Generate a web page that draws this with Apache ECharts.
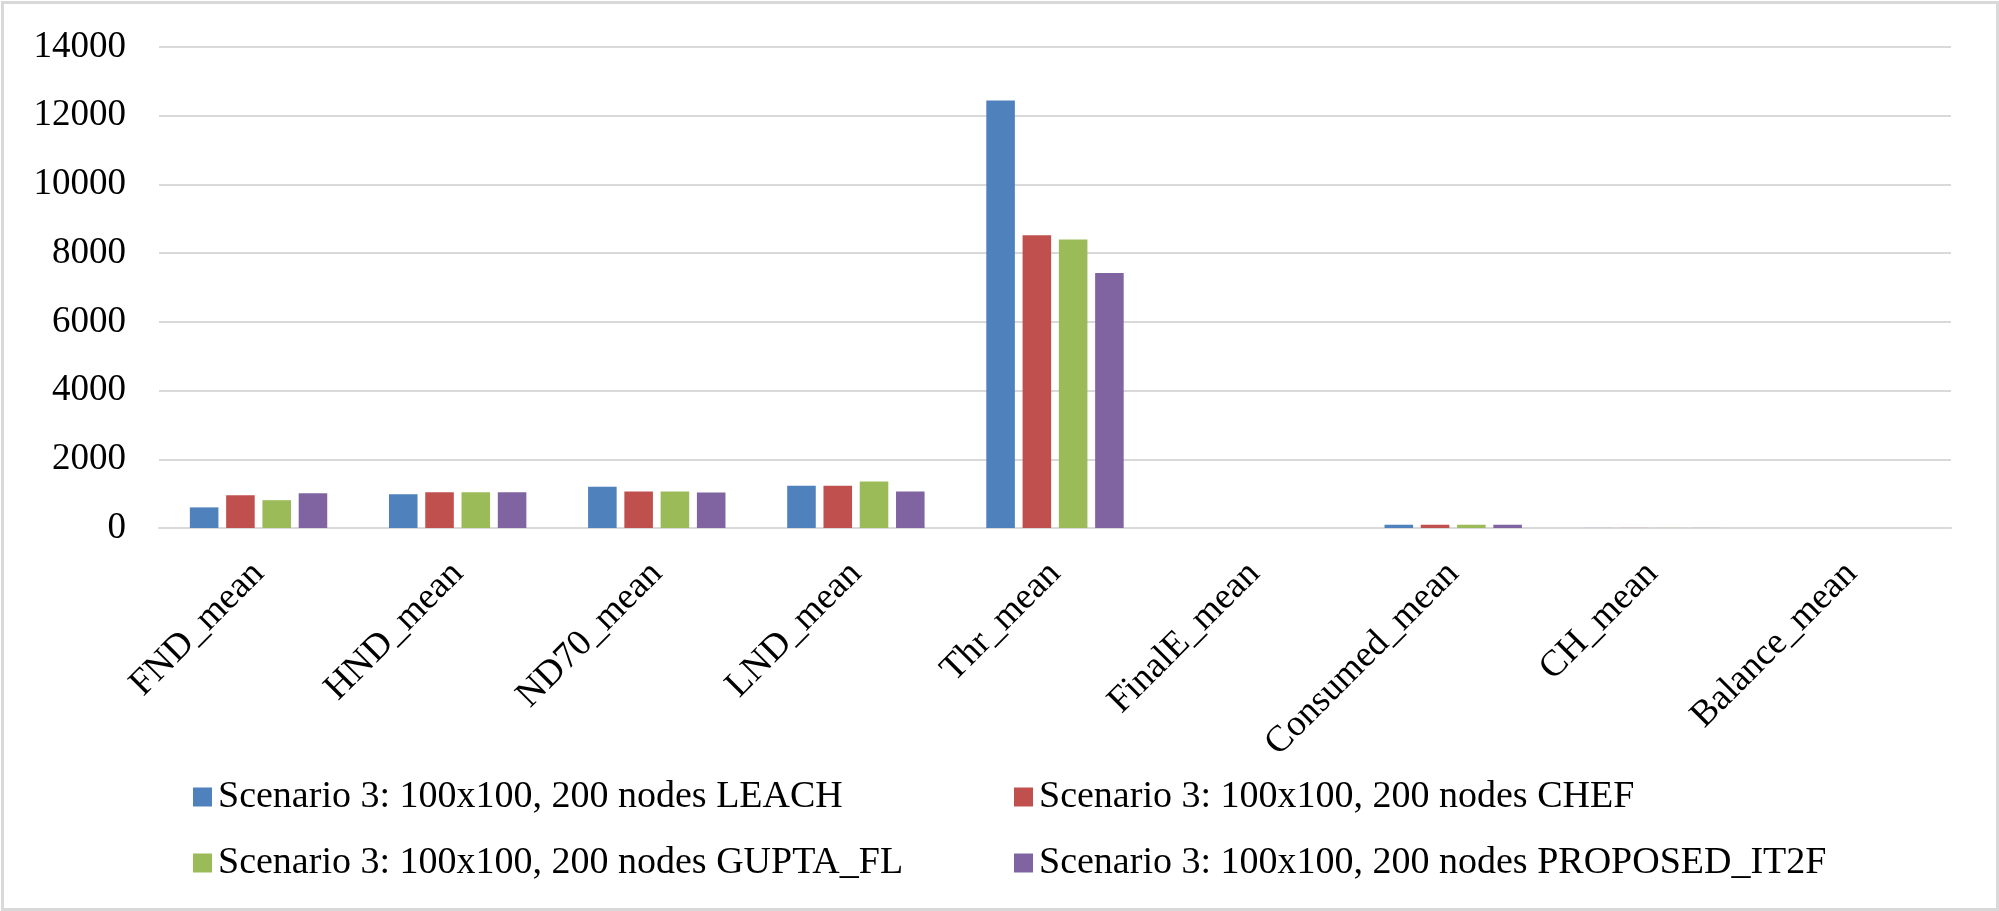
<!DOCTYPE html>
<html>
<head>
<meta charset="utf-8">
<script src="https://cdn.jsdelivr.net/npm/echarts@6/dist/echarts.min.js"></script>
<style>
html,body{margin:0;padding:0;background:#fff;}
#chart{width:1999px;height:911px;}
</style>
</head>
<body>
<div id="chart"></div>
<script>
const categories = ['FND_mean','HND_mean','ND70_mean','LND_mean','Thr_mean','FinalE_mean','Consumed_mean','CH_mean','Balance_mean'];
const seriesNames = [
  'Scenario 3: 100x100, 200 nodes LEACH',
  'Scenario 3: 100x100, 200 nodes CHEF',
  'Scenario 3: 100x100, 200 nodes GUPTA_FL',
  'Scenario 3: 100x100, 200 nodes PROPOSED_IT2F'
];
const leachValues    = [600, 985, 1200, 1230, 12440, 0.5, 95, 2, 0.5];
const chefValues     = [950, 1040, 1065, 1230, 8520, 0.5, 95, 2, 0.5];
const guptaValues    = [810, 1040, 1065, 1350, 8400, 0.5, 95, 2, 0.5];
const proposedValues = [1010, 1040, 1035, 1065, 7420, 0.5, 95, 2, 0.5];
const yTicks = {min: 0, max: 14000, interval: 2000};

const colors = ['#4F81BD','#C0504D','#9BBB59','#8064A2'];
const allValues = [leachValues, chefValues, guptaValues, proposedValues];
const font = 'Liberation Serif';

const chart = echarts.init(document.getElementById('chart'));
chart.setOption({
  animation: false,
  color: colors,
  textStyle: {fontFamily: font, color: '#000'},
  grid: {left: 159, right: 48, top: 47, bottom: 383, containLabel: false, outerBoundsMode: 'none'},
  graphic: [{
    type: 'rect', left: 0, top: 0, silent: true,
    shape: {x: 1.5, y: 1.5, width: 1995, height: 907},
    style: {fill: 'none', stroke: '#d9d9d9', lineWidth: 3}
  }],
  xAxis: {
    type: 'category',
    data: categories,
    axisLine: {lineStyle: {color: '#d9d9d9', width: 2}},
    axisTick: {show: false},
    axisLabel: {rotate: 45, margin: 40, fontSize: 37, fontFamily: font, color: '#000', interval: 0}
  },
  yAxis: {
    type: 'value',
    min: yTicks.min, max: yTicks.max, interval: yTicks.interval,
    axisLine: {show: false},
    axisTick: {show: false},
    splitLine: {lineStyle: {color: '#d9d9d9', width: 2}},
    axisLabel: {margin: 33, fontSize: 37, fontFamily: font, color: '#000', formatter: v => String(v)}
  },
  legend: [
    {
      data: [seriesNames[0], seriesNames[2]],
      orient: 'vertical', left: 188, top: 772,
      icon: 'rect', itemWidth: 19, itemHeight: 19, itemGap: 26,
      textStyle: {fontSize: 38, fontFamily: font, color: '#000', lineHeight: 40, padding: [0,0,0,1]}
    },
    {
      data: [seriesNames[1], seriesNames[3]],
      orient: 'vertical', left: 1009, top: 772,
      icon: 'rect', itemWidth: 19, itemHeight: 19, itemGap: 26,
      textStyle: {fontSize: 38, fontFamily: font, color: '#000', lineHeight: 40, padding: [0,0,0,1]}
    }
  ],
  series: seriesNames.map((name, i) => ({
    name: name,
    type: 'bar',
    data: allValues[i],
    barCategoryGap: '31%',
    barGap: '27%',
    itemStyle: {color: colors[i]}
  }))
});
</script>
</body>
</html>
